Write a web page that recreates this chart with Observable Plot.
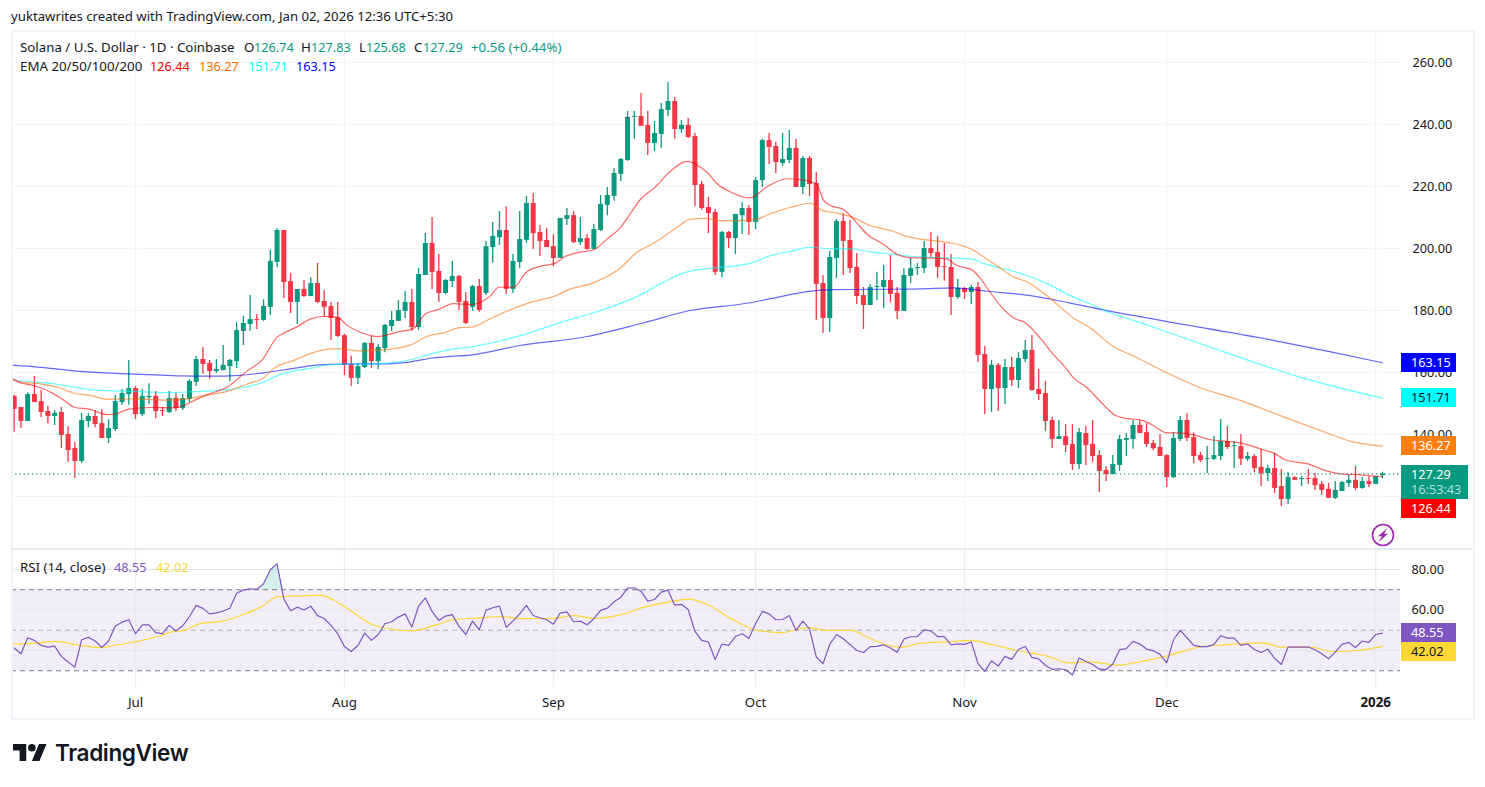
<!DOCTYPE html>
<html><head><meta charset="utf-8">
<script src="https://cdn.jsdelivr.net/npm/d3@7"></script>
<script src="https://cdn.jsdelivr.net/npm/@observablehq/plot@0.6"></script>
<style>
html,body{margin:0;padding:0;background:#fff;overflow:hidden;width:1485px;height:787px}
body{position:relative;font-family:"Noto Sans",sans-serif;font-size:12.5px;color:#131722}
#header{height:30px;line-height:32px;padding-left:11px;white-space:nowrap;box-sizing:border-box;font-size:13.2px}
svg{display:block}
.ov{position:absolute;white-space:nowrap;line-height:16px}
.flag{position:absolute;left:1401px;width:55px;height:19px;line-height:19px;text-align:left;padding-left:10px;box-sizing:border-box;white-space:nowrap;font-size:12.7px}
#border{position:absolute;left:11px;top:30px;width:1464px;height:690px;box-sizing:border-box;border:2px solid #f0f3fa;pointer-events:none}
#sep{position:absolute;left:11px;top:548px;width:1462px;height:2px;background:#e8eaf0}
</style></head><body>
<div id="header">yuktawrites created with TradingView.com, Jan 02, 2026 12:36 UTC+5:30</div>
<div id="price"></div>
<div id="rsi"></div>
<script>
const openP=[152.3,148.7,144.2,152.9,150.6,147.4,145.8,147.1,140.0,135.5,
131.3,144.2,145.8,143.5,138.7,141.6,150.3,152.9,154.8,146.4,
151.9,152.3,147.7,147.1,151.6,148.4,151.3,156.8,164.2,162.9,
160.3,160.6,161.9,163.5,173.2,175.5,177.1,176.8,181.0,195.5,
205.8,189.3,182.6,186.8,184.5,188.7,182.9,181.3,177.7,171.9,
162.6,158.1,161.6,169.4,163.5,167.7,174.8,176.5,179.7,182.6,
174.5,191.3,201.6,192.6,185.5,189.3,191.0,182.9,181.0,187.7,
185.5,200.3,203.5,205.8,186.8,195.5,202.6,214.5,205.2,202.6,
200.6,196.8,209.4,210.6,201.9,203.2,199.7,205.8,213.9,216.8,
223.9,228.4,242.3,242.6,239.7,233.9,236.8,244.5,247.4,238.4,
239.7,236.1,220.6,213.2,211.6,192.3,205.2,203.2,210.6,212.9,
208.4,221.9,234.8,232.9,227.4,228.4,232.3,219.7,229.0,221.0,
188.7,177.4,196.8,208.7,202.6,193.9,184.8,181.6,187.4,187.4,
189.7,185.5,179.7,191.0,193.5,193.5,200.0,198.7,194.2,193.9,
184.2,187.1,185.8,187.4,165.8,154.5,162.3,154.8,161.6,157.4,
164.2,167.1,154.5,153.2,144.5,138.4,139.3,136.8,130.3,140.3,
136.8,133.2,128.4,127.1,130.0,138.1,138.4,142.9,140.6,137.1,
135.8,133.2,126.1,138.4,144.5,139.0,133.2,132.0,132.0,132.9,
137.7,136.1,136.1,132.0,132.9,129.4,127.4,129.0,123.2,119.0,
126.1,125.5,125.8,125.8,123.9,122.3,119.4,121.6,124.2,125.2,
122.6,124.8,123.9,126.74];
const closeP=[148.1,144.2,152.9,150.3,147.1,145.8,146.8,139.7,134.8,131.3,
144.5,145.8,143.2,138.7,141.9,150.6,153.2,154.8,146.4,152.3,
152.3,147.4,147.4,151.6,148.4,151.6,157.1,164.2,162.6,160.3,
161.0,162.3,163.9,173.5,175.8,177.1,176.8,181.3,195.8,205.8,
189.0,182.6,186.8,184.5,188.7,182.6,181.0,177.4,171.6,162.3,
158.1,161.9,169.4,163.5,168.1,175.2,176.8,180.0,182.6,174.5,
191.6,201.6,192.3,185.5,189.7,191.0,182.6,175.8,187.7,180.0,
200.6,203.9,205.8,186.8,195.8,202.9,214.5,204.8,202.2,200.3,
196.8,209.7,210.6,201.9,203.2,199.7,206.1,214.2,217.1,224.2,
228.7,242.3,242.6,239.4,233.9,237.1,244.8,247.4,238.4,239.7,
235.8,220.3,212.9,211.3,192.3,205.2,203.2,211.0,212.9,208.4,
221.9,234.8,232.6,227.7,228.7,232.3,219.7,229.0,220.6,188.4,
177.4,197.1,208.7,202.3,193.5,184.5,181.6,187.4,187.7,189.7,
185.2,179.7,191.3,193.5,193.9,200.0,198.4,193.9,193.9,184.2,
187.1,185.8,187.4,165.5,154.5,162.3,154.8,161.6,157.4,164.5,
167.1,154.2,152.9,144.2,138.4,139.3,136.4,130.3,140.6,136.4,
132.9,128.1,127.1,130.3,138.4,138.7,142.9,140.3,136.8,135.4,
132.9,126.1,138.7,144.5,138.7,132.9,131.6,132.3,133.2,137.7,
135.8,136.4,132.0,132.9,129.0,127.4,129.0,122.6,119.0,126.1,
125.2,125.8,125.5,123.5,121.9,119.4,122.0,124.5,125.2,122.6,
124.8,123.9,126.4,127.29];
const highP=[152.6,148.7,153.5,158.7,154.2,149.0,147.7,148.7,142.6,137.4,
146.8,146.8,147.7,148.0,144.8,152.6,154.5,163.9,155.5,154.5,
156.4,153.9,148.7,153.9,153.5,152.9,157.7,165.2,168.1,163.9,
164.2,168.7,164.2,176.1,178.1,184.8,178.7,183.5,199.4,206.4,
205.8,191.9,186.8,189.7,190.6,195.2,186.4,182.6,182.6,172.3,
165.2,162.9,169.7,171.6,169.0,175.5,179.7,183.2,186.1,186.8,
193.5,204.8,210.0,198.1,190.0,195.8,191.3,185.8,188.1,190.0,
202.3,208.4,211.9,213.5,198.1,211.9,216.8,217.7,207.4,206.5,
204.5,209.7,212.9,211.9,210.0,204.5,207.7,217.1,219.7,225.8,
229.0,244.2,244.2,250.0,244.2,241.0,246.8,253.5,248.7,241.3,
241.9,237.1,221.6,216.5,212.6,205.5,205.5,211.0,214.8,213.9,
222.9,235.2,237.1,234.2,237.1,238.1,235.2,229.7,229.7,224.5,
191.3,199.0,209.4,211.3,209.0,198.4,187.4,188.4,192.3,194.5,
197.7,187.4,193.5,196.8,195.2,202.3,205.2,203.9,201.6,198.1,
190.0,187.4,188.1,189.0,168.4,163.9,162.9,164.2,164.8,166.4,
170.3,171.9,161.0,157.1,145.5,144.5,143.2,143.2,141.9,142.6,
144.5,134.8,129.7,133.2,139.7,140.3,144.5,144.5,143.5,138.1,
140.0,133.5,140.6,145.8,146.8,140.6,134.2,136.1,139.4,144.8,
142.6,137.7,140.0,134.2,133.5,135.2,130.0,133.9,128.7,127.7,
126.4,126.4,128.7,127.4,124.8,124.2,124.8,124.8,126.8,129.7,
126.1,126.4,126.4,127.83];
const lowP=[140.7,141.9,144.2,150.3,145.5,143.5,142.9,135.5,131.0,125.8,
130.6,142.2,142.2,138.7,137.1,141.0,149.4,149.4,144.8,145.8,
149.7,145.1,145.8,146.8,147.4,147.7,150.3,155.5,159.4,157.7,
159.7,160.6,157.1,161.3,168.7,173.2,173.9,176.5,178.4,193.9,
183.9,179.0,175.5,184.2,184.5,182.2,178.1,170.3,171.3,159.0,
155.5,156.1,161.3,161.3,161.0,166.4,173.2,176.5,177.4,173.2,
173.5,191.3,186.8,182.6,185.2,187.4,180.0,175.5,179.7,179.4,
184.8,195.2,201.0,185.2,185.5,193.5,201.6,199.7,197.4,200.3,
194.2,196.8,207.4,201.6,201.0,199.4,199.7,205.5,210.6,215.2,
221.6,228.1,235.2,239.4,230.0,231.3,232.3,242.6,235.2,237.1,
235.5,213.5,212.3,204.8,191.3,190.6,200.0,198.1,204.5,204.2,
206.1,219.7,227.1,224.2,226.5,227.4,219.7,217.4,216.8,176.8,
172.6,172.9,190.3,191.3,191.9,181.9,173.9,181.6,183.2,180.6,
182.6,177.1,179.7,188.7,191.3,191.9,197.1,190.3,189.4,178.4,
183.6,183.6,181.9,163.2,146.4,147.1,147.4,149.7,155.5,154.8,
163.2,153.9,151.0,141.0,135.5,138.4,134.2,128.4,128.7,130.0,
131.0,121.3,124.8,127.1,128.1,132.9,135.2,140.3,135.8,134.8,
132.9,122.9,125.8,137.7,137.7,130.6,131.0,127.4,131.6,131.6,
135.2,129.0,130.0,131.3,127.7,123.2,124.8,121.0,116.8,117.4,
125.2,123.2,123.9,121.9,120.3,119.4,119.0,121.6,122.9,121.9,
122.3,122.9,123.9,125.68];
const rsiV=[41.2,38.4,46.3,45.0,42.5,41.7,42.2,37.1,34.3,31.8,
45.3,46.5,44.7,41.5,44.7,52.1,54.0,55.2,48.3,52.7,
52.7,48.8,48.3,52.4,49.6,52.2,56.8,62.3,60.8,58.1,
58.6,59.5,60.9,68.3,69.8,70.5,70.2,73.0,79.9,82.8,
65.5,59.6,61.4,60.0,61.9,57.2,55.8,52.4,48.3,42.0,
39.5,42.5,48.6,45.0,47.9,53.2,54.2,56.5,58.1,51.6,
61.9,66.0,59.3,54.8,57.0,57.7,51.9,47.9,54.5,50.2,
59.8,61.1,61.9,51.4,54.5,58.1,62.3,57.3,56.2,55.2,
53.0,58.5,59.1,54.2,54.5,52.7,55.7,59.8,60.9,64.1,
66.2,70.8,71.0,69.3,64.4,65.2,68.8,69.8,62.4,62.8,
60.3,49.4,45.0,44.2,35.6,43.2,42.5,46.9,48.3,46.0,
53.2,59.3,58.1,55.2,55.3,57.3,49.9,54.5,50.7,36.8,
33.5,43.0,47.9,45.8,43.0,40.0,39.0,41.9,42.0,42.8,
41.2,39.2,45.6,46.8,46.9,50.2,49.7,46.9,46.9,42.8,
43.3,43.0,44.2,33.5,29.7,34.9,32.3,37.1,35.6,40.5,
42.0,36.6,35.9,32.6,30.7,31.0,30.5,27.9,36.3,34.6,
33.1,30.8,30.6,33.3,40.4,40.9,44.5,43.2,40.7,39.9,
38.1,33.9,45.3,49.9,46.3,42.5,41.9,41.9,43.0,47.3,
46.1,46.1,42.5,43.2,40.5,39.0,40.7,36.1,33.1,41.7,
41.7,41.7,41.7,40.4,38.4,35.9,39.2,43.0,44.0,41.5,
44.7,44.0,47.9,48.55];
// [day number after the first candle, value]
const rsiMA=[[-0.4,43.2],[2.9,43.5],[6.1,44.5],[9.4,42.8],[12.8,41.4],[14.8,42.5],[17.8,44.2],[21.7,47.3],[23.2,49.1],[25.2,49.9],[27.7,53.4],[30.7,54.4],[33.6,57.3],[36.8,61.9],[39,66.5],[42.5,67],[45.5,67.2],[47.5,64.7],[49.9,59.8],[53.2,52.7],[54.9,51.1],[59.1,49.7],[62.8,52.9],[65.3,55.3],[68.8,56],[72.2,56.8],[75.2,55.7],[79.7,55.8],[83.1,57.2],[86.1,55.8],[90,57.7],[93.5,61.4],[97,63.9],[100,65.4],[102.9,62.6],[106.4,55.7],[110.3,49.9],[113.8,48.8],[117.8,51.2],[120.7,49.9],[124.2,49.9],[126.7,46.3],[131.4,41.5],[134.7,43.7],[138.6,44.3],[142.1,45],[144.7,43.2],[148.8,40],[153.4,37.1],[156.5,33.9],[159.6,34.4],[163.7,32.8],[166.2,33.9],[170.9,37.2],[175.6,41.5],[179.2,42.7],[185.4,43.8],[187.9,41.7],[192.1,41.7],[195.7,39.5],[199.3,40],[203,42.02]];
const ema20=[[-0.4,158.2],[0.9,156.7],[2.9,155.8],[5.9,153.1],[7.4,151],[8.9,148.8],[11.3,148.1],[13.8,146.4],[15,146.6],[17,148.2],[20.2,148.7],[23.7,148.6],[25.2,149.4],[27.2,151.5],[28.7,152.9],[31.6,155.3],[34.6,160.6],[36.8,164.1],[39,171.4],[40.3,173],[42,174.8],[44,177.3],[46,178.1],[48,177.8],[49.4,175.2],[51.1,173.2],[53.9,171.6],[56.8,173],[59.3,174.3],[61,178.9],[62.8,180.2],[65.2,182.2],[67.7,181.9],[70.7,184.8],[71.9,187.5],[74.1,187.5],[75.9,192.2],[78.1,194.3],[80.1,195.1],[81.8,197.5],[83.5,198.6],[86,199.6],[88,203.1],[90,206.9],[91.4,211.2],[92.9,215.8],[95.1,219.8],[97.1,224.4],[99.9,228.1],[101.8,226.2],[102.8,224.6],[104.3,220.9],[106.3,218.2],[109,216.3],[112,220.3],[114.7,222.5],[116.7,222.2],[119,220.9],[120.1,215.5],[121.1,213.9],[123.1,212.5],[125.1,208],[126.6,204.5],[129,201.3],[131,198.1],[133,197],[136,196.9],[138.2,196.7],[139.9,194.5],[142.1,193.1],[143.4,190.2],[144.6,186.5],[146.3,181.6],[148.3,177.6],[150.1,175.9],[152.3,170.9],[154.3,165.5],[155.7,162.3],[157.2,158.2],[159.2,155],[161.7,149.4],[163.4,146.1],[165.2,145.1],[167.1,144.7],[168.6,143.4],[171.1,140.5],[172.6,140.5],[175,139.9],[177.5,138.3],[180,137.8],[182.5,137],[185.4,135],[187.1,133.8],[188.4,132],[192.3,130.3],[194.8,128.2],[196.8,127.3],[199.8,127],[203,126.44]];
const ema50=[[-0.4,157.9],[0.9,156.9],[3.9,156.3],[6.4,155.3],[8.9,153.3],[11.3,152.6],[13.8,151.4],[17.8,151.5],[22.2,151.1],[25.7,151.5],[28.2,152.6],[31.6,153.9],[34.6,156.3],[36.8,158],[38.8,161.7],[41.5,163.9],[44.5,166.5],[47,167.6],[48.7,167.6],[50.9,167],[53.4,167.2],[55.3,167.4],[58.8,168.9],[61.3,171.7],[63.7,172.8],[66.2,174.5],[67.7,174.6],[70.7,177.4],[73.7,180.3],[76.6,182.6],[80.6,185],[82,186.5],[86,189],[90,193.8],[92.4,198.8],[94.9,201.7],[97.9,206.1],[100.3,209.4],[102.3,209.7],[104.8,209],[107.3,209],[109.7,209.2],[112.2,211.2],[115.2,213.3],[118.1,214.6],[119.9,212.3],[122.1,211.4],[124.1,210.3],[127,207.4],[130,205.8],[132.5,203.9],[134.5,203],[138.4,202],[141.9,199.9],[143.9,197.2],[146.3,193.7],[148.3,190.8],[150.3,189.2],[153.3,184.6],[157.2,177.5],[159.7,174.3],[163.2,168.2],[166.1,165.3],[170.1,160.9],[175.5,155.5],[181.9,151],[188.4,145.6],[194.8,140.5],[198.3,137.8],[203,136.27]];
const ema100=[[-0.4,157.5],[2.9,157],[5.9,156.3],[8.9,155.3],[12.8,154.2],[17.8,153.9],[22.7,153.5],[26.7,153.8],[30.6,154.2],[33.6,155],[37,156.9],[39.5,159.4],[44,161.4],[46.9,162.5],[48.9,162.7],[51.9,162.7],[55.3,163],[59,164.2],[61.8,166],[64.7,167.4],[67.7,168.2],[75.1,171.9],[81,176.1],[87,180],[92.7,184.8],[95.9,188.6],[98.9,191.8],[100.9,193],[103.3,193.6],[109.2,195.2],[112.2,197.7],[115.2,199.1],[118.1,200.4],[121.1,199.9],[124.1,199.9],[127,198.9],[130.5,198.1],[133,197.5],[138.4,197],[142.1,196.6],[143.9,195.1],[146.3,193.7],[150.3,191.3],[153.3,188.6],[156.7,184.8],[160.2,181.6],[162.7,179.2],[166.1,176.8],[170.1,173.8],[181,165.5],[190,159],[203,151.71]];
const ema200=[[-0.4,162.4],[4.4,161.6],[8.9,160.5],[14.3,159.8],[20.2,159.3],[24.7,158.9],[28.7,158.8],[33.6,159.1],[37,159.9],[42,161.5],[44.9,162.4],[48.9,162.7],[55.3,162.8],[59,163.5],[61.8,164.6],[64.7,165.2],[67.7,165.6],[75,168.7],[85,171.6],[93,175.8],[100.3,180],[109.2,182.5],[112.2,183.8],[117.7,186.1],[121.6,186.7],[134.5,187],[139.4,187.3],[144.4,186.2],[150.8,184.8],[156.7,182.4],[162.7,179.7],[170.1,176.8],[187,170.3],[195,166.8],[203,163.15]];
const monthLabels=["Jul","Aug","Sep","Oct","Nov","Dec","2026"];
const monthDays=[18,49,80,110,141,171,202];
const gridTicks=[120,140,160,180,200,220,240,260];
const priceTicks=[140,160,180,200,220,240,260];
const rsiTicks=[40,60,80];
const priceFlags=[["163.15",163.15,"#0000ff","#fff"],["151.71",151.71,"#00ffff","#131722"],["136.27",136.27,"#ff7f0e","#fff"],["126.44",126.44,"#ff0000","#fff"]];
const rsiFlags=[["48.55",48.55,"#7e57c2","#fff"],["42.02",42.02,"#fdd835","#131722"]];

const GREEN="#089981",RED="#f23645",GRID="#f3f4f7",PURPLE="#7e57c2";
const FONT='"Noto Sans",sans-serif';
const t0=Date.UTC(2025,5,13);
const day=i=>new Date(t0+i*864e5);
const candles=openP.map((o,i)=>({date:day(i),o,h:highP[i],l:lowP[i],c:closeP[i],col:closeP[i]>=o?GREEN:RED}));
const pts=a=>a.map(([i,v])=>({date:day(i),v}));
const xDomain=[day(-0.4),day(205.68)];
const months=monthDays.map(day);
const last=closeP[closeP.length-1];

const emaLine=(a,c)=>Plot.line(pts(a),{x:"date",y:"v",stroke:c,strokeWidth:1.2,strokeOpacity:.6,curve:"monotone-x"});
const pricePlot=Plot.plot({
  width:1485,height:519,marginLeft:11,marginRight:85,marginTop:0,marginBottom:0,
  style:{fontFamily:FONT,fontSize:"12.7px",color:"#131722",background:"transparent",overflow:"visible"},
  x:{type:"time",domain:xDomain,axis:null},
  y:{domain:[102.9,270.32],axis:null},
  marks:[
    Plot.ruleX(months,{stroke:GRID,strokeWidth:1.2}),
    Plot.ruleY(gridTicks,{stroke:GRID,strokeWidth:1.2}),
    Plot.axisY({anchor:"right",ticks:priceTicks,tickSize:0,tickPadding:12,label:null,textAnchor:"start",tickFormat:d=>d.toFixed(2)}),
    Plot.ruleX(candles,{x:"date",y1:"l",y2:"h",stroke:"col",strokeWidth:1.3}),
    Plot.ruleX(candles,{x:"date",y1:"o",y2:"c",stroke:"col",strokeWidth:5}),
    emaLine(ema200,"#0000ff"),emaLine(ema100,"#00ffff"),emaLine(ema50,"#ff6d00"),emaLine(ema20,"#ff0000"),
    Plot.ruleY([last],{stroke:GREEN,strokeDasharray:"1.2 3",strokeWidth:1.2})
  ]
});
document.getElementById("price").append(pricePlot);

const rsiData=rsiV.map((v,i)=>({date:day(i),v}));
const peak=rsiData.slice(34,41).map(d=>({date:d.date,v:Math.max(d.v,70)}));
const bandX=xDomain;
const rsiPlot=Plot.plot({
  width:1485,height:169,marginLeft:11,marginRight:85,marginTop:0,marginBottom:31,
  style:{fontFamily:FONT,fontSize:"12.7px",color:"#131722",background:"transparent",overflow:"visible"},
  x:{type:"time",domain:xDomain,axis:null},
  y:{domain:[21.73,89.88],axis:null},
  marks:[
    Plot.rect([0],{x1:()=>bandX[0],x2:()=>bandX[1],y1:()=>30,y2:()=>70,fill:PURPLE,fillOpacity:.1}),
    Plot.ruleX(months,{stroke:"#e6e7ee",strokeOpacity:.8,strokeWidth:1.2}),
    Plot.ruleY(rsiTicks,{stroke:"#e4e3ee",strokeWidth:1.1}),
    Plot.ruleY([70,30],{stroke:"#787b86",strokeDasharray:"5 4",strokeWidth:1.1}),
    Plot.ruleY([50],{stroke:"#787b86",strokeOpacity:.55,strokeDasharray:"5 4",strokeWidth:1.1}),
    Plot.areaY(peak,{x:"date",y1:70,y2:"v",fill:"#089981",fillOpacity:.16}),
    Plot.line(pts(rsiMA),{x:"date",y:"v",stroke:"#fdd835",strokeWidth:1.2,curve:"monotone-x"}),
    Plot.line(rsiData,{x:"date",y:"v",stroke:PURPLE,strokeWidth:1.2}),
    Plot.axisY({anchor:"right",ticks:[60,80],tickSize:0,tickPadding:11,label:null,textAnchor:"start",tickFormat:d=>d.toFixed(2)}),
    Plot.axisX({anchor:"bottom",ticks:months.slice(0,6),tickSize:0,tickPadding:10,label:null,fontSize:13.3,tickFormat:(d,i)=>monthLabels[i]}),
    Plot.axisX({anchor:"bottom",ticks:months.slice(6),tickSize:0,tickPadding:10,label:null,fontSize:13.3,fontWeight:"bold",tickFormat:()=>monthLabels[6]})
  ]
});
document.getElementById("rsi").append(rsiPlot);

// overlays
const add=(html,css,cls)=>{const e=document.createElement("div");e.className=cls||"ov";e.innerHTML=html;e.style.cssText=css;document.body.append(e);return e;};
add("","",null).id="border";
add("","",null).id="sep";
const TXT=(s,x,y,c,size)=>add(s,`left:${x}px;top:${y-8}px;color:${c||"#131722"};font-size:${size||12.7}px`);
TXT("Solana / U.S. Dollar · 1D · Coinbase",20,47,null,13.3);
TXT("O",244,47,null,13.3);TXT("126.74",254,47,GREEN);
TXT("H",301,47,null,13.3);TXT("127.83",311,47,GREEN);
TXT("L",359,47,null,13.3);TXT("125.68",366,47,GREEN);
TXT("C",414,47,null,13.3);TXT("127.29",423,47,GREEN);
TXT("+0.56 (+0.44%)",471,47,GREEN,13.3);
TXT("EMA 20/50/100/200",20,66,null,13.3);
TXT("126.44",150,66,"#ff0000");TXT("136.27",199,66,"#ff6d00");TXT("151.71",248,66,"#00ffff");TXT("163.15",296,66,"#0000ff");
TXT("RSI (14, close)",20,567,null,13.3);
TXT("48.55",114,567,PURPLE);TXT("42.02",156,567,"#fdd835");

// axis flags positioned through the library's scales, stacked where they would collide
const yP=pricePlot.scale("y"),yR=rsiPlot.scale("y");
const TOP_P=30,TOP_R=549;
const flag=(txt,top,bg,fg,css="")=>add(txt,`top:${top}px;background:${bg};color:${fg};${css}`,"flag");
for(const [t,v,bg,fg] of priceFlags.slice(0,3)) flag(t,TOP_P+yP.apply(v)-9.5,bg,fg);
const curTop=TOP_P+yP.apply(last)-8.5;
flag(`<div style="height:16px;line-height:18px">${last.toFixed(2)}</div><div style="height:17px;line-height:16px;color:#b5dfd7">16:53:43</div>`,curTop,GREEN,"#fff","height:34px;width:67px;line-height:normal");
{const [t,v,bg,fg]=priceFlags[3];flag(t,Math.max(TOP_P+yP.apply(v)-9.5,curTop+34.5),bg,fg);}
const r1=TOP_R+yR.apply(rsiFlags[0][1])-9.5;
flag(rsiFlags[0][0],r1,rsiFlags[0][2],rsiFlags[0][3]);
flag(rsiFlags[1][0],Math.max(TOP_R+yR.apply(rsiFlags[1][1])-9.5,r1+19),rsiFlags[1][2],rsiFlags[1][3]);

// bolt badge
add(`<svg width="24" height="24" viewBox="0 0 24 24"><circle cx="12" cy="12" r="10.5" fill="#fff" stroke="#9c27b0" stroke-width="1.6"/><path d="M16.5 5 7 13.2h4L7.5 19l9.5-8.2h-4z" fill="#9c27b0"/></svg>`,"left:1371px;top:523px;line-height:0");
// logo
add(`<svg width="34" height="17" viewBox="0 4 36 18"><path fill="#131722" d="M14 22H7V11H0V4h14v18zM28 22h-8l7.5-18h8L28 22z"/><circle fill="#131722" cx="20" cy="8" r="4"/></svg>`,"left:13px;top:744px;line-height:0");
add("TradingView",`left:55px;top:741px;font:600 22.6px/24px Inter,Roboto,sans-serif;color:#131722;letter-spacing:-.4px`);
</script>
</body></html>
